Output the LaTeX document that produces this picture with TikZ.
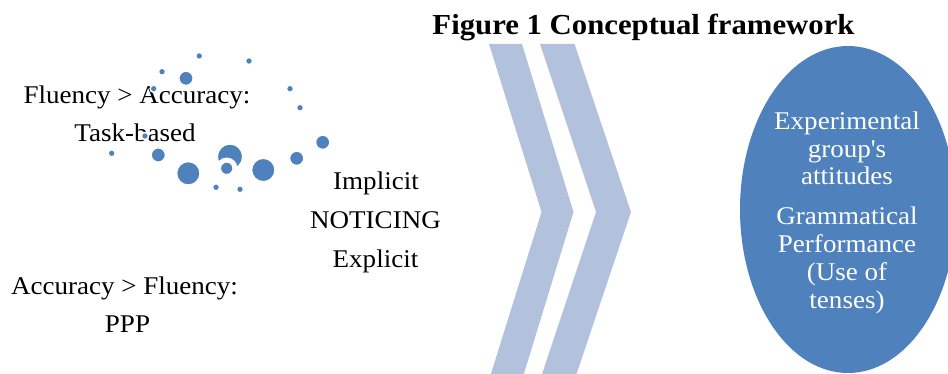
\documentclass[tikz,border=0pt]{standalone}
\usepackage{fontspec}
\setmainfont{Liberation Serif}[FakeStretch=1.06]
\usetikzlibrary{shapes.geometric}
\definecolor{bblue}{HTML}{4F81BD}
\definecolor{chev}{HTML}{B2C1DC}
\tikzset{
  lbl/.style={anchor=base, inner sep=0pt, font=\fontsize{25.5}{30}\selectfont},
  elbl/.style={anchor=base, inner sep=0pt, text=white, font=\fontsize{25.5}{30}\selectfont},
  bub/.style={fill=bblue, draw=white, line width=1.5pt},
  chevron/.style={fill=chev, draw=none}
}
\begin{document}
\begin{tikzpicture}[x=1pt,y=-1pt]
\useasboundingbox (0,0) rectangle (948,374);
% title
\node[anchor=base, inner sep=0pt, font=\bfseries\fontsize{29}{34}\selectfont] (title) at (643.5,35) {Figure 1 Conceptual framework};
% chevrons
\fill[chevron] (489,44) -- (522,44) -- (573.5,212) -- (522,380) -- (489,380) -- (541.5,212) -- cycle;
\fill[chevron] (540,44) -- (574.5,44) -- (631,212) -- (574.5,380) -- (540,380) -- (596,212) -- cycle;
% ellipse
\node[ellipse, fill=bblue, draw=none, minimum width=216pt, minimum height=327pt, inner sep=0pt] (ell) at (848,209.5) {};
\node[elbl] (e1) at (847,130) {Experimental};
\node[elbl] (e2) at (847,158) {group\textquotesingle s};
\node[elbl] (e3) at (847,185) {attitudes};
\node[elbl] (e4) at (847,225) {Grammatical};
\node[elbl] (e5) at (847,252.5) {Performance};
\node[elbl] (e6) at (847,280) {(Use of};
\node[elbl] (e7) at (847,308) {tenses)};
% left texts
\node[lbl] (fa) at (137,103.3) {Fluency > Accuracy:};
\node[lbl] (tb) at (135,141.7) {Task-based};
\node[lbl] (imp) at (376,189.3) {Implicit};
\node[lbl] (not) at (375.5,228.3) {NOTICING};
\node[lbl] (exp) at (375.5,267.3) {Explicit};
\node[lbl] (af) at (124.5,294.3) {Accuracy > Fluency:};
\node[lbl] (ppp) at (127.5,332.7) {PPP};
% bubbles
\foreach \x/\y/\r in {199.3/56/3.6, 249/61/3.6, 162/71.7/3.6, 186/78.3/7.2, 153.7/88.7/3.6,
  290/88.7/3.6, 300/107.7/3.6, 145/136/3.6, 322.7/142.3/7.2, 111.7/153.3/3.6,
  158.3/155/7.2, 296.7/158.3/7.2, 188.3/173.3/11.8, 263.3/170/11.8,
  216/187.3/3.6, 240/189.3/3.6, 230/156.7/12.8}
  \draw[bub] (\x,\y) circle[radius=\r];
\draw[bub, line width=5pt] (226.7,168.3) circle[radius=8.2];
\end{tikzpicture}
\end{document}
